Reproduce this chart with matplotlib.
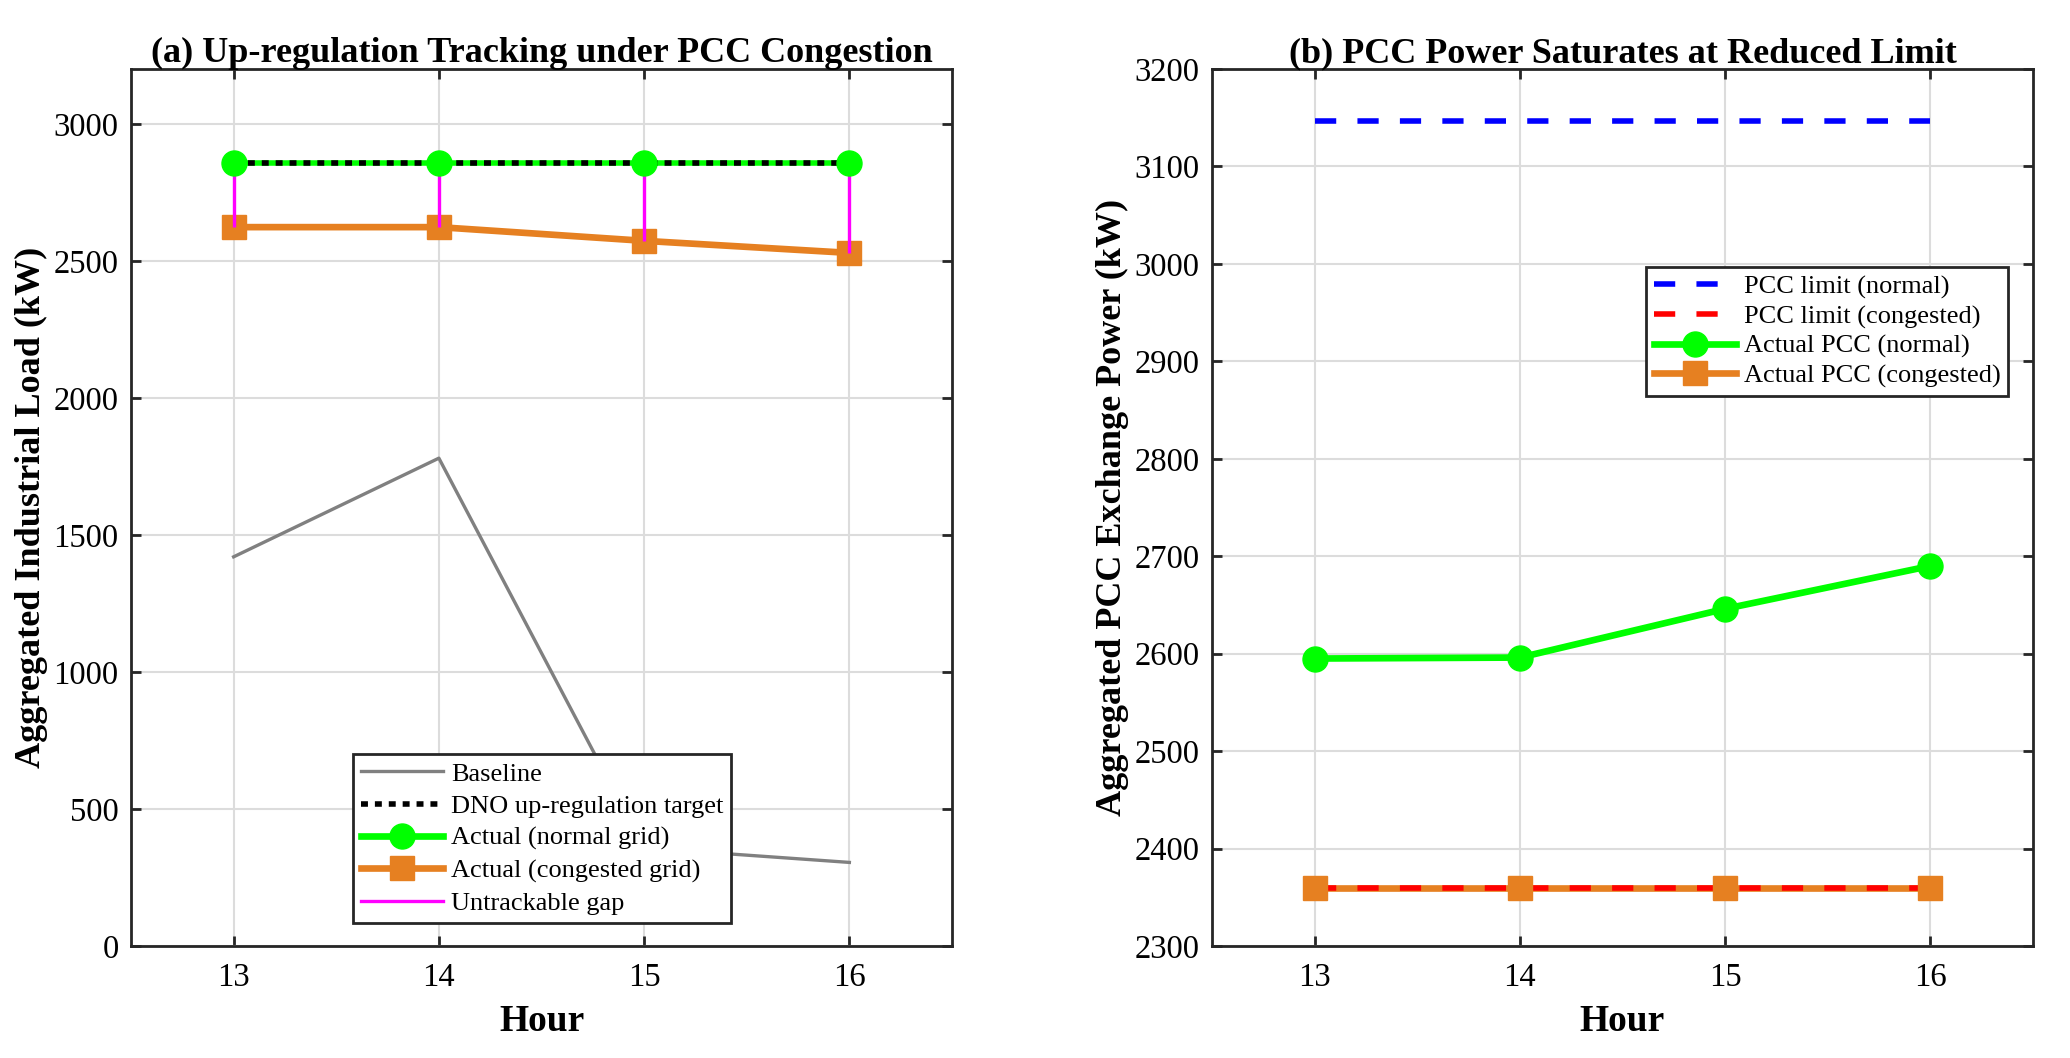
import matplotlib
matplotlib.use('Agg')
import matplotlib.pyplot as plt

plt.rcParams['font.family'] = ['Liberation Serif', 'DejaVu Serif']

hours = [13, 14, 15, 16]

# panel (a)
baseline = [1420, 1780, 358, 305]
dno_target = [2858, 2858, 2858, 2858]
actual_normal = [2858, 2858, 2858, 2858]
actual_congested = [2623, 2623, 2573, 2529]

# panel (b)
pcc_limit_normal = [3147, 3147, 3147, 3147]
pcc_limit_congested = [2360, 2360, 2360, 2360]
pcc_actual_normal = [2595, 2596, 2646, 2690]
pcc_actual_congested = [2360, 2360, 2360, 2360]

GREEN = '#00ff00'
ORANGE = '#e68021'
DARK = '#262626'
DASH = (0, (3.82, 3.82))

fig = plt.figure(figsize=(20.7, 10.58), dpi=100)
ax1 = fig.add_axes([131 / 2070, 112 / 1058, 821 / 2070, 877 / 1058])
ax2 = fig.add_axes([1212 / 2070, 112 / 1058, 821 / 2070, 877 / 1058])


def style(ax):
    ax.set_axisbelow(True)
    ax.grid(True, color='#dcdcdc', lw=1.5)
    ax.tick_params(direction='in', top=True, right=True, length=7, width=2,
                   color=DARK, labelsize=23.5, pad=9)
    ax.tick_params(axis='x', pad=12)
    for s in ax.spines.values():
        s.set_linewidth(2)
        s.set_color(DARK)
    ax.set_xlim(12.5, 16.5)
    ax.set_xticks(hours)
    ax.set_xlabel('Hour', fontsize=27, fontweight='bold', labelpad=8)


def legend(ax, handles, **kw):
    leg = ax.legend(handles=handles, borderaxespad=0, fontsize=19, fancybox=False,
                    framealpha=1, edgecolor=DARK, handlelength=3.1,
                    handletextpad=0.3, borderpad=0.3, **kw)
    leg.get_frame().set_linewidth(2)
    return leg


# ---- (a)
h_base, = ax1.plot(hours, baseline, color='gray', lw=2.4, label='Baseline')
ax1.plot(hours, actual_normal, color=GREEN, lw=4, zorder=3)
h_tgt, = ax1.plot(hours, dno_target, color='black', lw=4, ls=(0, (1.25, 1.25)),
                  zorder=3.5, label='DNO up-regulation target')
h_cong, = ax1.plot(hours, actual_congested, color=ORANGE, lw=4.8, marker='s',
                   ms=17, label='Actual (congested grid)', zorder=3)
ax1.vlines(hours, actual_congested, actual_normal, color='#ff00ff', lw=2.4, zorder=4)
h_gap, = ax1.plot([], [], color='#ff00ff', lw=2.4, label='Untrackable gap')
ax1.plot(hours, actual_normal, color=GREEN, marker='o', ms=18, ls='none', zorder=5)
h_norm, = ax1.plot([], [], color=GREEN, lw=4.8, marker='o', ms=18,
                   label='Actual (normal grid)')
style(ax1)
ax1.set_ylim(0, 3200)
ax1.set_yticks(range(0, 3001, 500))
ax1.set_ylabel('Aggregated Industrial Load (kW)', fontsize=26, fontweight='bold', labelpad=4)
ax1.set_title('(a) Up-regulation Tracking under PCC Congestion', fontsize=26,
              fontweight='bold', pad=5)
legend(ax1, [h_base, h_tgt, h_norm, h_cong, h_gap], loc='lower center',
       bbox_to_anchor=(0.501, 0.026), labelspacing=0.33)

# ---- (b)
h_ln, = ax2.plot(hours, pcc_limit_normal, color='#0000ff', lw=4, ls=DASH,
                 label='PCC limit (normal)')
h_an, = ax2.plot(hours, pcc_actual_normal, color=GREEN, lw=4.8, marker='o', ms=18,
                 label='Actual PCC (normal)')
ax2.plot(hours, pcc_actual_congested, color=ORANGE, lw=4.8, zorder=2)
h_lc, = ax2.plot(hours, pcc_limit_congested, color='#ff0000', lw=4, ls=DASH,
                 zorder=2.5, label='PCC limit (congested)')
ax2.plot(hours, pcc_actual_congested, color=ORANGE, marker='s', ms=17, ls='none', zorder=3)
h_ac, = ax2.plot([], [], color=ORANGE, lw=4.8, marker='s', ms=17,
                 label='Actual PCC (congested)')
style(ax2)
ax2.set_ylim(2300, 3200)
ax2.set_yticks(range(2300, 3201, 100))
ax2.set_ylabel('Aggregated PCC Exchange Power (kW)', fontsize=26, fontweight='bold', labelpad=4)
ax2.set_title('(b) PCC Power Saturates at Reduced Limit', fontsize=26,
              fontweight='bold', pad=5)
legend(ax2, [h_ln, h_lc, h_an, h_ac], loc='upper right',
       bbox_to_anchor=(0.970, 0.774), labelspacing=0.22)

fig.savefig('out.png', dpi=100)
